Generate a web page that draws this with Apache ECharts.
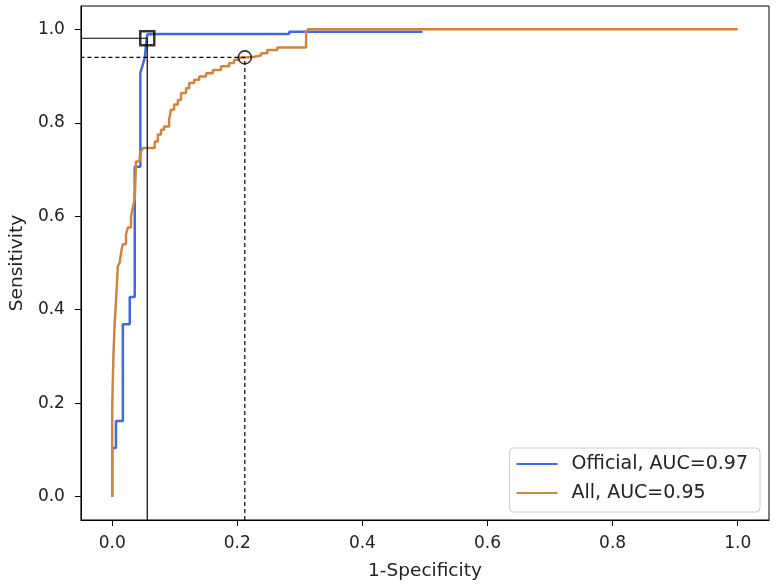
<!DOCTYPE html>
<html>
<head>
<meta charset="utf-8">
<script src="https://cdn.jsdelivr.net/npm/echarts@6/dist/echarts.min.js"></script>
<style>
  html, body { margin: 0; padding: 0; background: #fff; }
  #chart { width: 780px; height: 586px; }
</style>
</head>
<body>
<div id="chart"></div>
<script>
// ROC curves, [1-specificity, sensitivity]
var officialName = 'Official, AUC=0.97'
var allName = 'All, AUC=0.95'
var officialRoc = [
  [0, 0], [0, 0.104], [0.006, 0.104], [0.006, 0.162], [0.017, 0.162], [0.017, 0.369],
  [0.028, 0.369], [0.028, 0.427], [0.036, 0.427], [0.036, 0.706], [0.045, 0.706],
  [0.045, 0.907], [0.052, 0.939], [0.055, 0.978], [0.056, 0.989], [0.067, 0.990],
  [0.283, 0.990], [0.283, 0.995], [0.496, 0.995]
]
var allRoc = [
  [0, 0], [0, 0.191], [0.002, 0.304], [0.004, 0.373], [0.006, 0.416], [0.009, 0.493],
  [0.012, 0.501], [0.015, 0.529], [0.017, 0.540], [0.022, 0.561], [0.025, 0.576],
  [0.030, 0.599], [0.033, 0.619], [0.036, 0.636], [0.038, 0.717], [0.044, 0.728],
  [0.046, 0.739], [0.049, 0.746], [0.068, 0.760], [0.073, 0.775], [0.078, 0.785],
  [0.083, 0.792], [0.091, 0.807], [0.094, 0.828], [0.099, 0.839], [0.105, 0.849],
  [0.110, 0.864], [0.118, 0.874], [0.123, 0.885], [0.131, 0.892], [0.139, 0.899],
  [0.150, 0.906], [0.161, 0.913], [0.174, 0.921], [0.187, 0.928], [0.195, 0.935],
  [0.203, 0.940], [0.212, 0.941], [0.225, 0.944], [0.238, 0.949], [0.248, 0.956],
  [0.264, 0.961], [0.310, 0.995], [0.313, 1.0], [1.0, 1.0]
]
// best cut-off points
var officialCut = [0.056, 0.981]
var allCut = [0.212, 0.940]
var tickValues = [0, 0.2, 0.4, 0.6, 0.8, 1.0]
var axisMin = -0.05
var axisMax = 1.05

var font = 'DejaVu Sans'
var chart = echarts.init(document.getElementById('chart'))

function axis(name, gap, rotate, margin) {
  return {
    type: 'value',
    min: axisMin,
    max: axisMax,
    name: name,
    nameLocation: 'middle',
    nameGap: gap,
    nameRotate: rotate,
    nameTextStyle: { fontFamily: font, fontSize: 18.5, color: '#222' },
    splitLine: { show: false },
    axisLine: { show: true, onZero: false, lineStyle: { color: '#000', width: 1 } },
    axisTick: { show: true, length: 6, customValues: tickValues, lineStyle: { color: '#000' } },
    axisLabel: {
      customValues: tickValues,
      fontFamily: font,
      fontSize: 17,
      color: '#222',
      margin: margin,
      formatter: function (v) { return v.toFixed(1) }
    }
  }
}

chart.setOption({
  animation: false,
  backgroundColor: '#fff',
  grid: {
    left: 80, right: 11, top: 6, bottom: 65,
    show: true, borderColor: '#000', borderWidth: 1
  },
  xAxis: axis('1-Specificity', 42, 0, 15),
  yAxis: axis('Sensitivity', 50, 90, 16),
  legend: {
    data: [officialName, allName],
    orient: 'vertical',
    right: 20,
    top: 448,
    padding: [6, 12, 9, 7],
    itemGap: 9,
    icon: 'rect',
    itemWidth: 41,
    itemHeight: 2,
    borderColor: '#ccc',
    borderWidth: 1,
    borderRadius: 4,
    backgroundColor: 'rgba(255,255,255,0.8)',
    textStyle: { fontFamily: font, fontSize: 19, color: '#222', lineHeight: 20, padding: [0, 0, 0, 9] }
  },
  series: [
    {
      name: officialName,
      type: 'line',
      data: officialRoc,
      symbol: 'none',
      color: '#4169E1',
      lineStyle: { width: 2.5 },
      z: 3
    },
    {
      name: allName,
      type: 'line',
      step: 'end',
      data: allRoc,
      symbol: 'none',
      color: '#CD853F',
      lineStyle: { width: 2.5 },
      z: 3
    },
    {
      name: 'officialRef',
      type: 'line',
      data: [[officialCut[0], axisMin], officialCut, [axisMin, officialCut[1]]],
      symbol: 'none',
      lineStyle: { color: '#000', width: 1.2 },
      z: 4
    },
    {
      name: 'allRef',
      type: 'line',
      data: [[allCut[0], axisMin], allCut, [axisMin, allCut[1]]],
      symbol: 'none',
      lineStyle: { color: '#000', width: 1.2, type: [4, 3] },
      z: 4
    },
    {
      name: 'officialCutPoint',
      type: 'scatter',
      data: [officialCut],
      symbol: 'rect',
      symbolSize: 14,
      itemStyle: { color: 'rgba(0,0,0,0)', borderColor: '#000', borderWidth: 2.5 },
      z: 5
    },
    {
      name: 'allCutPoint',
      type: 'scatter',
      data: [allCut],
      symbol: 'circle',
      symbolSize: 13,
      itemStyle: { color: 'rgba(0,0,0,0)', borderColor: '#000', borderWidth: 1.6 },
      z: 5
    }
  ]
})
</script>
</body>
</html>
